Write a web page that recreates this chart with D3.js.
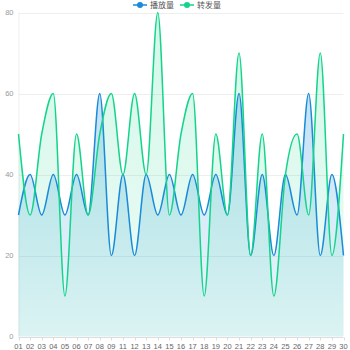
<!DOCTYPE html>
<html>
<head>
<meta charset="utf-8">
<script src="https://cdn.jsdelivr.net/npm/d3@7/dist/d3.min.js"></script>
<style>
  html, body { margin: 0; padding: 0; background: #fff; }
  svg { display: block; font-family: "Liberation Sans", Arial, sans-serif; }
</style>
</head>
<body>
<svg id="chart" width="350" height="350"></svg>
<script>
// Day labels along the x axis
const days = ["01","02","03","04","05","06","07","08","09","11","12","13","14","15","16","17","18","19","20","21","22","23","24","25","26","27","28","29","30"];
// 播放量 (plays)
const plays = [30,40,30,40,30,40,30,60,20,40,20,40,30,40,30,40,30,40,30,60,20,40,20,40,30,60,20,40,20];
// 转发量 (shares)
const shares = [50,30,50,60,10,50,30,50,60,40,60,40,80,30,50,60,10,50,30,70,20,50,10,40,50,30,70,20,50];
const yTicks = [0,20,40,60,80];
const seriesNames = ["播放量","转发量"];
const seriesColors = ["#1a8bd9","#13d48a"];

const svg = d3.select("#chart");
const margin = {top: 12.5, right: 6.5, bottom: 13.5, left: 18.5};
const W = 350, H = 350;

const x = d3.scalePoint().domain(days).range([margin.left, W - margin.right]);
const y = d3.scaleLinear().domain([0, 80]).range([H - margin.bottom, margin.top]);

// vertical gradients for the area fills
const defs = svg.append("defs");
function grad(id, color, top, bottom, y0, y1) {
  const g = defs.append("linearGradient").attr("id", id)
    .attr("gradientUnits", "userSpaceOnUse")
    .attr("x1", 0).attr("x2", 0).attr("y1", y0).attr("y2", y1);
  g.append("stop").attr("offset", 0).attr("stop-color", color).attr("stop-opacity", top);
  g.append("stop").attr("offset", 1).attr("stop-color", color).attr("stop-opacity", bottom);
}
grad("gPlays", seriesColors[0], 0.26, 0.08, y(60), y(0));
grad("gShares", seriesColors[1], 0.18, 0.08, y(80), y(0));

// horizontal split lines
svg.append("g").selectAll("line").data(yTicks.filter(d => d > 0)).join("line")
  .attr("x1", margin.left).attr("x2", W - margin.right)
  .attr("y1", d => Math.round(y(d)) + 0.5).attr("y2", d => Math.round(y(d)) + 0.5)
  .attr("stroke", "#eeeeee").attr("stroke-width", 1);

// y axis labels
svg.append("g").selectAll("text").data(yTicks).join("text")
  .attr("x", margin.left - 5).attr("y", d => y(d)).attr("dy", "0.35em")
  .attr("text-anchor", "end").attr("font-size", 7.5).attr("fill", "#999")
  .text(d => d);

// y axis line
svg.append("line")
  .attr("x1", margin.left + 0.5).attr("x2", margin.left + 0.5)
  .attr("y1", y(80)).attr("y2", y(0))
  .attr("stroke", "#eeeeee");

const series = [
  {name: seriesNames[0], values: plays, color: seriesColors[0], fill: "url(#gPlays)"},
  {name: seriesNames[1], values: shares, color: seriesColors[1], fill: "url(#gShares)"}
];

const area = d3.area()
  .x((d, i) => x(days[i]))
  .y0(y(0))
  .y1(d => y(d))
  .curve(d3.curveMonotoneX);
const line = d3.line()
  .x((d, i) => x(days[i]))
  .y(d => y(d))
  .curve(d3.curveMonotoneX);

svg.append("g").selectAll("path").data(series).join("path")
  .attr("d", s => area(s.values))
  .attr("fill", s => s.fill);

svg.append("g").selectAll("path").data(series).join("path")
  .attr("d", s => line(s.values))
  .attr("fill", "none")
  .attr("stroke", s => s.color)
  .attr("stroke-width", 1.5);

// x axis
svg.append("line")
  .attr("x1", margin.left).attr("x2", W - margin.right)
  .attr("y1", Math.round(y(0)) + 0.5).attr("y2", Math.round(y(0)) + 0.5)
  .attr("stroke", "#dddddd");
svg.append("g").selectAll("line").data(days).join("line")
  .attr("x1", d => Math.round(x(d)) + 0.5).attr("x2", d => Math.round(x(d)) + 0.5)
  .attr("y1", Math.round(y(0)) + 0.5).attr("y2", Math.round(y(0)) + 3.5)
  .attr("stroke", "#dddddd");
svg.append("g").selectAll("text").data(days).join("text")
  .attr("x", d => x(d)).attr("y", H - 1.5)
  .attr("text-anchor", "middle").attr("font-size", 7.5).attr("fill", "#666")
  .text(d => d);

// legend
const legend = svg.append("g");
const legendX = [133, 180];
series.forEach((s, i) => {
  const g = legend.append("g").attr("transform", `translate(${legendX[i]},5)`);
  g.append("line").attr("x1", 0).attr("x2", 14).attr("y1", 0).attr("y2", 0)
    .attr("stroke", s.color).attr("stroke-width", 1.5);
  g.append("circle").attr("cx", 7).attr("cy", 0).attr("r", 3)
    .attr("fill", s.color);
  g.append("text").attr("x", 17).attr("y", 0).attr("dy", "0.35em")
    .attr("font-size", 8).attr("fill", "#555")
    .attr("font-family", "'Noto Sans CJK SC', sans-serif")
    .text(s.name);
});
</script>
</body>
</html>
